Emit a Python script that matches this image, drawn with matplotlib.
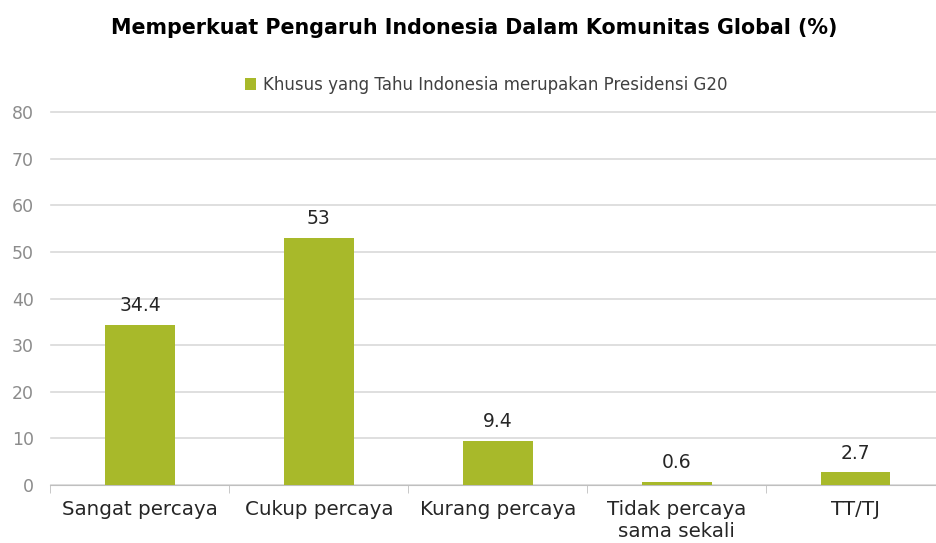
import matplotlib
matplotlib.use("Agg")
import matplotlib.pyplot as plt

categories = ["Sangat percaya", "Cukup percaya", "Kurang percaya", "Tidak percaya\nsama sekali", "TT/TJ"]
values = [34.4, 53, 9.4, 0.6, 2.7]
labels = ["34.4", "53", "9.4", "0.6", "2.7"]
series_name = "Khusus yang Tahu Indonesia merupakan Presidensi G20"
title = "Memperkuat Pengaruh Indonesia Dalam Komunitas Global (%)"

plt.rcParams['font.family'] = ['DejaVu Sans']

W, H = 936, 543
fig = plt.figure(figsize=(W/100, H/100), dpi=100)
left, right = 50.5, 945
bottom, top = 485, 112
ax = fig.add_axes([left/W, 1-bottom/H, (right-left)/W, (bottom-top)/H])

color = "#a8b92a"
x = list(range(len(categories)))
bars = ax.bar(x, values, width=0.39, color=color, label=series_name, zorder=3)
ax.set_xlim(-0.5, len(categories)-0.5)
ax.set_ylim(0, 80)
ax.set_yticks(range(0, 81, 10))
ax.grid(axis='y', color='#d9d9d9', linewidth=1.2, zorder=0)
for gl in ax.get_ygridlines():
    gl.set_clip_on(False)
for s in ['top', 'right', 'left']:
    ax.spines[s].set_visible(False)
ax.spines['bottom'].set_color('#bfbfbf')
ax.tick_params(axis='y', length=0, labelsize=12.5, labelcolor='#8c8c8c', pad=12)
ax.set_xticks([i+0.5 for i in x[:-1]] + [-0.5], minor=True)
ax.tick_params(axis='x', which='minor', length=6, color='#bfbfbf')
ax.set_xticks(x)
ax.set_xticklabels(categories)
ax.tick_params(axis='x', which='major', length=0, labelsize=14.3, labelcolor='#262626', pad=11)

for xi, v, lab in zip(x, values, labels):
    ax.annotate(lab, (xi, v), xytext=(0, 7), textcoords='offset points',
                ha='center', va='bottom', fontsize=13.5, color='#262626')

fig.text(474/W, 1-28/H, title, ha='center', va='center', fontsize=14.9, fontweight='bold', color='#000000')
leg = fig.legend(handles=[bars], labels=[series_name], loc='center', bbox_to_anchor=(486/W, 1-85/H),
                 frameon=False, fontsize=12, handlelength=0.7, handleheight=0.7, handletextpad=0.4,
                 labelcolor='#404040')

fig.savefig("out.png", dpi=100)
